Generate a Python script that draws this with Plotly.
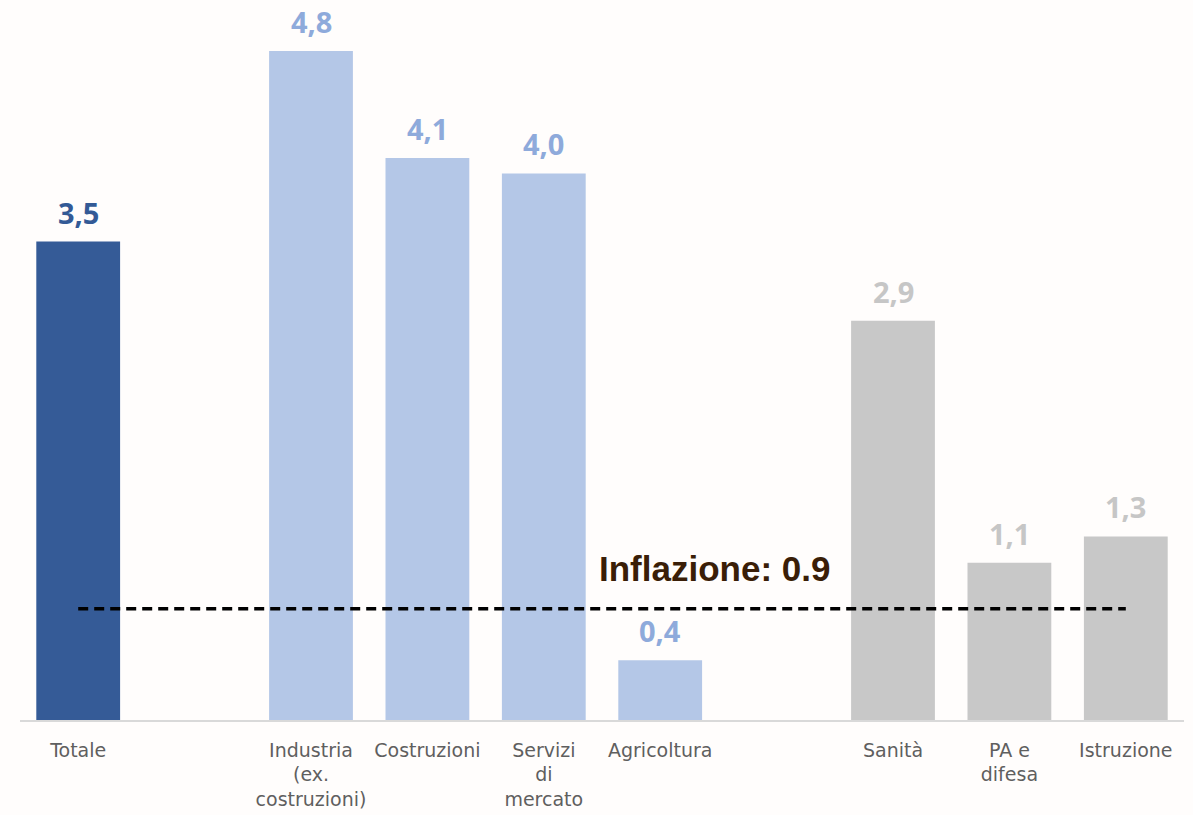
import plotly.graph_objects as go

# Data
categories = ["Totale", "Industria<br>(ex.<br>costruzioni)", "Costruzioni",
              "Servizi<br>di<br>mercato", "Agricoltura", "Sanità", "PA e<br>difesa", "Istruzione"]
slots = [0, 2, 3, 4, 5, 7, 8, 9]          # category slot positions (1 and 6 are empty gaps)
values = [3.44, 4.81, 4.04, 3.93, 0.43, 2.87, 1.13, 1.32]
value_labels = ["3,5", "4,8", "4,1", "4,0", "0,4", "2,9", "1,1", "1,3"]
inflation_level = 0.8
inflation_label = "Inflazione: 0.9"

bar_colors = ["#355b97", "#b4c7e7", "#b4c7e7", "#b4c7e7", "#b4c7e7", "#c8c8c8", "#c8c8c8", "#c8c8c8"]
label_colors = ["#335a96", "#8eaadb", "#8eaadb", "#8eaadb", "#8eaadb", "#c6c6c6", "#c6c6c6", "#c6c6c6"]

fig = go.Figure()
fig.add_trace(go.Bar(
    x=slots, y=values, marker=dict(color=bar_colors, line=dict(width=0)),
    width=0.72, hoverinfo="skip", showlegend=False,
))

for s, v, t, c in zip(slots, values, value_labels, label_colors):
    fig.add_annotation(x=s, y=v, text=f"<b>{t}</b>", showarrow=False,
                       yanchor="bottom", yshift=8,
                       font=dict(family="Open Sans", size=29, color=c))

fig.add_shape(type="line", xref="x", yref="y", x0=slots[0], x1=slots[-1],
              y0=inflation_level, y1=inflation_level,
              line=dict(color="black", width=3.5, dash="10px,6px"))

fig.add_annotation(x=5.47, y=inflation_level, text=f"<b>{inflation_label}</b>",
                   showarrow=False, yanchor="bottom", yshift=19,
                   font=dict(family="Liberation Sans", size=35, color="#3a1e07"))

fig.update_layout(
    width=1193, height=815,
    margin=dict(l=20, r=9, t=10, b=95, autoexpand=False),
    paper_bgcolor="#fffdfc", plot_bgcolor="#fffdfc",
    bargap=0.28,
    xaxis=dict(tickvals=slots, ticktext=categories, range=[-0.5, 9.5],
               automargin=False,
               showline=True, linecolor="#d9d9d9", linewidth=1.5,
               showgrid=False, zeroline=False, ticks="outside", ticklen=12,
               tickcolor="rgba(0,0,0,0)",
               tickfont=dict(family="DejaVu Sans", size=19, color="#5f5f5f")),
    yaxis=dict(range=[0, 5.105], visible=False, showgrid=False, zeroline=False,
               automargin=False),
)

fig.write_html("out.html")
